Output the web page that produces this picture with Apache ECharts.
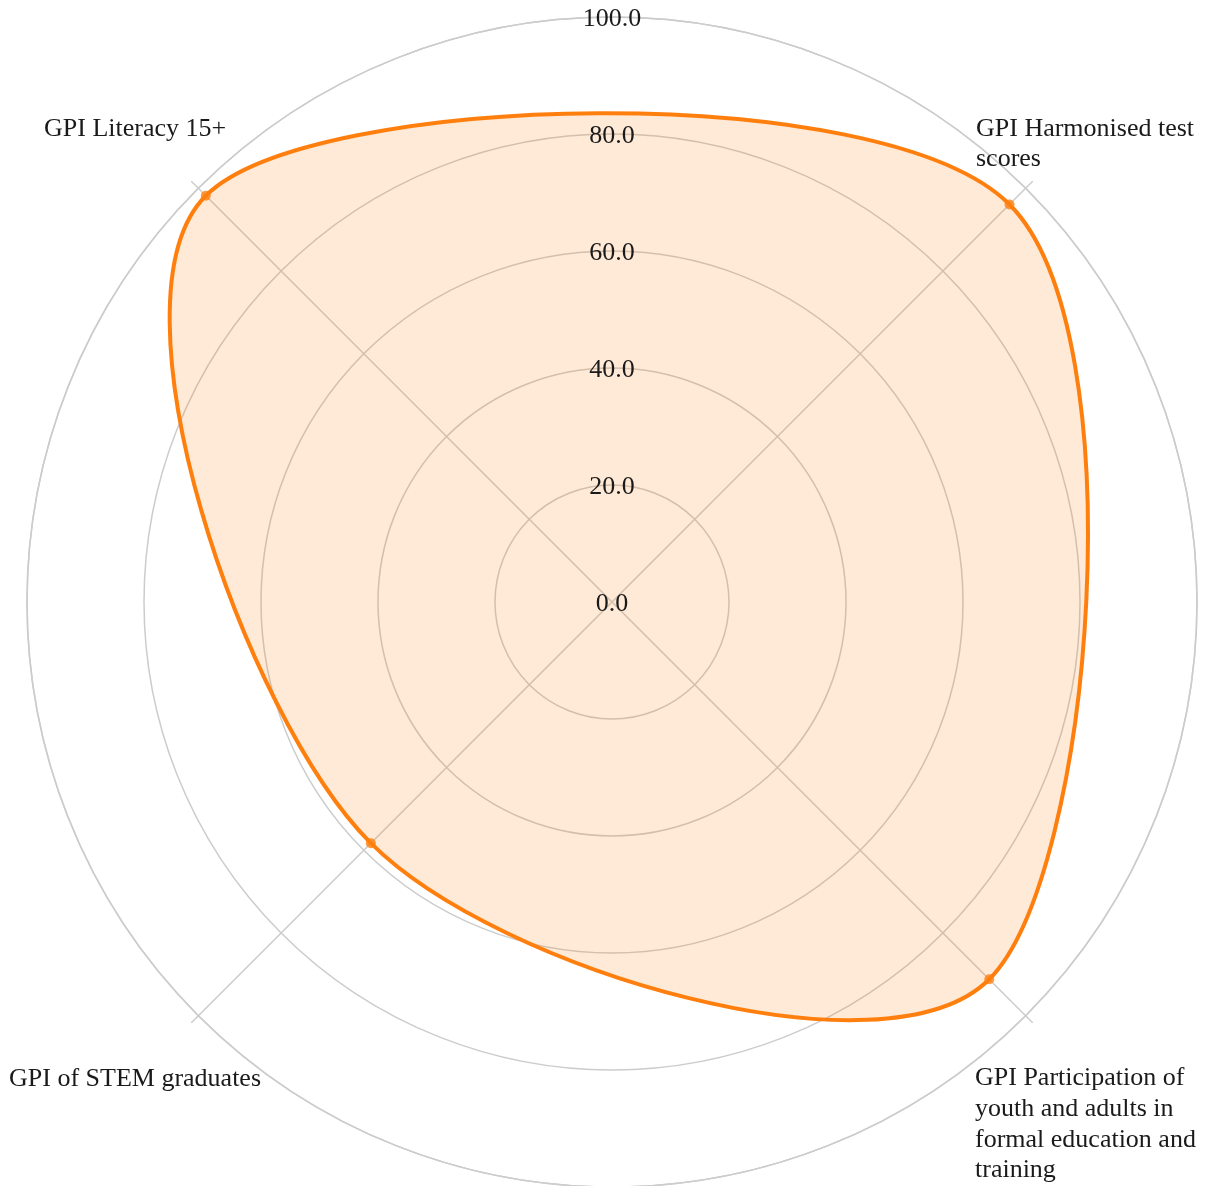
<!DOCTYPE html>
<html><head><meta charset="utf-8">
<script src="https://cdn.jsdelivr.net/npm/echarts@6/dist/echarts.min.js"></script>
<style>html,body{margin:0;padding:0;background:#fff}#c{width:1207px;height:1186px}</style>
</head><body><div id="c"></div>
<script>
// ---- data ----
const indicators = [
  'GPI Literacy 15+',
  'GPI Harmonised test scores',
  'GPI Participation of youth and adults in formal education and training',
  'GPI of STEM graduates'
];
const values = [98.2, 96.1, 91.2, 58.3];
const radialTicks = [0, 20, 40, 60, 80, 100];

// ---- layout / style ----
const FONT = '"Liberation Serif", "Times New Roman", serif';
const TEXT = '#1a1a1a';
const GRID = '#cccccc';
const ORANGE = '#ff7f0e';
const CX = 612, CY = 602, R = 585;
const labelPos = [
  {x: 44, y: 129, valign: 'middle', wrap: null},
  {x: 976, y: 113.5, valign: 'top', wrap: 228},
  {x: 975, y: 1063, valign: 'top', wrap: 228},
  {x: 9, y: 1079, valign: 'middle', wrap: null}
];

// closed cardinal (Catmull-Rom type) spline through the projected points
function smoothClosed(pts, k) {
  const n = pts.length;
  const P = i => pts[(i + n) % n];
  let d = 'M' + P(0)[0] + ' ' + P(0)[1];
  for (let i = 0; i < n; i++) {
    const p0 = P(i - 1), p1 = P(i), p2 = P(i + 1), p3 = P(i + 2);
    const c1 = [p1[0] + k * (p2[0] - p0[0]), p1[1] + k * (p2[1] - p0[1])];
    const c2 = [p2[0] - k * (p3[0] - p1[0]), p2[1] - k * (p3[1] - p1[1])];
    d += 'C' + c1.join(' ') + ' ' + c2.join(' ') + ' ' + p2.join(' ');
  }
  return d + 'Z';
}

const step = 360 / indicators.length;
const seriesData = values.map((v, i) => [v, i * step]);

const chart = echarts.init(document.getElementById('c'), null, {renderer: 'canvas'});
chart.setOption({
  animation: false,
  backgroundColor: '#fff',
  polar: [
    {center: [CX, CY], radius: R},
    {center: [CX, CY], radius: R}
  ],
  angleAxis: [
    {
      polarIndex: 0, type: 'value', min: 0, max: 360, interval: step,
      startAngle: 135, clockwise: true,
      axisLine: {show: true, lineStyle: {color: GRID, width: 1.5}},
      axisTick: {show: true, inside: false, length: 10, lineStyle: {color: GRID, width: 1.5}},
      axisLabel: {show: false},
      splitLine: {show: true, lineStyle: {color: GRID, width: 1.5}}
    },
    {
      polarIndex: 1, type: 'value', min: 0, max: 360, startAngle: 90,
      axisLine: {show: false}, axisTick: {show: false}, axisLabel: {show: false},
      splitLine: {show: false}
    }
  ],
  radiusAxis: [
    {
      polarIndex: 0, type: 'value', min: radialTicks[0], max: radialTicks[radialTicks.length-1],
      interval: radialTicks[1] - radialTicks[0],
      axisLine: {show: false}, axisTick: {show: false}, axisLabel: {show: false},
      splitLine: {show: true, lineStyle: {color: GRID, width: 1.5}}
    },
    {
      polarIndex: 1, type: 'value', min: radialTicks[0], max: radialTicks[radialTicks.length-1],
      interval: radialTicks[1] - radialTicks[0], z: 10,
      axisLine: {show: false}, axisTick: {show: false}, splitLine: {show: false},
      axisLabel: {
        show: true, margin: 0, align: 'center', verticalAlign: 'middle',
        fontFamily: FONT, fontSize: 26, color: TEXT,
        formatter: v => '{t|' + Number(v).toFixed(1) + '}',
        rich: {t: {fontFamily: FONT, fontSize: 26, color: TEXT, padding: [5, 0, 0, 0]}}
      }
    }
  ],
  series: [
    {
      type: 'custom', coordinateSystem: 'polar', polarIndex: 0, z: 2,
      data: seriesData,
      renderItem: function (params, api) {
        if (params.dataIndex !== 0) return null;
        const pts = seriesData.map(d => api.coord(d));
        return {
          type: 'path',
          shape: {pathData: smoothClosed(pts, 0.163)},
          style: {fill: 'rgba(255,127,14,0.16)', stroke: ORANGE, lineWidth: 4, lineJoin: 'round'}
        };
      }
    },
    {
      type: 'scatter', coordinateSystem: 'polar', polarIndex: 0, z: 3,
      data: seriesData, symbol: 'circle', symbolSize: 10,
      itemStyle: {color: ORANGE}
    }
  ],
  graphic: indicators.map((name, i) => {
    const st = {
      text: name, lineHeight: 30.7,
      font: '26px ' + FONT, fill: TEXT,
      textAlign: 'left', textVerticalAlign: labelPos[i].valign
    };
    if (labelPos[i].wrap) { st.width = labelPos[i].wrap; st.overflow = 'break'; }
    return {type: 'text', x: labelPos[i].x, y: labelPos[i].y, z: 20, style: st};
  })
});
</script>
</body></html>
